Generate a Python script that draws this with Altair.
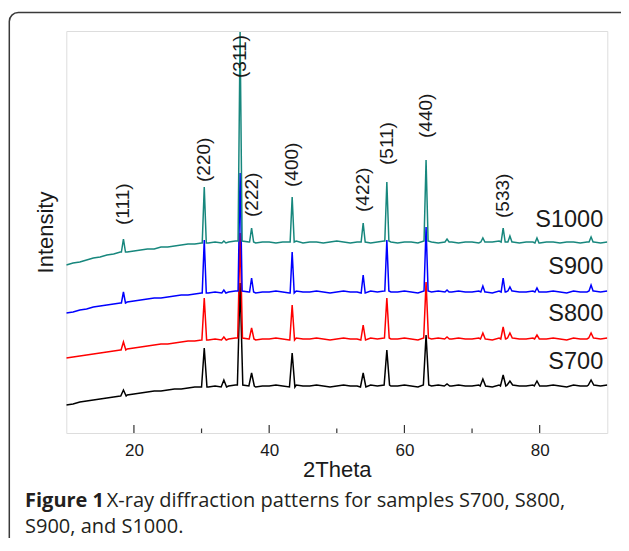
import altair as alt
import pandas as pd

# ---------------- data ----------------
SERIES = ["S700", "S800", "S900", "S1000"]
COLORS = ["#000000", "#ff0000", "#0000ff", "#17877d"]

BASE_X = list(range(10, 91))  # 2Theta, every degree

BASE_S1000 = [168, 170, 171, 173, 175, 176, 178, 179, 181, 181,
              182, 183, 184, 184, 186, 186, 187, 188, 189, 189,
              190, 190, 191, 190, 191, 192, 192, 191, 190, 191,
              191, 190, 191, 191, 192, 190, 191, 191, 190, 191,
              192, 191, 190, 191, 191, 190, 191, 192, 191, 190,
              191, 191, 190, 192, 191, 190, 191, 191, 190, 191,
              191, 190, 191, 191, 192, 191, 191, 190, 191, 191,
              190, 191, 191, 190, 191, 191, 190, 191, 191, 190,
              191]
BASE_S900 = [120, 121, 123, 124, 126, 127, 128, 129, 130, 131,
             132, 133, 134, 135, 135, 136, 137, 138, 138, 139,
             140, 140, 141, 140, 141, 142, 142, 141, 140, 141,
             141, 142, 141, 140, 142, 141, 141, 142, 141, 140,
             141, 142, 141, 141, 140, 142, 141, 142, 141, 141,
             142, 141, 140, 142, 141, 142, 141, 141, 142, 141,
             141, 142, 141, 140, 142, 141, 142, 141, 141, 142,
             141, 141, 142, 141, 140, 142, 141, 141, 142, 141,
             142]
BASE_S800 = [75, 76, 77, 78, 79, 80, 81, 82, 83, 84,
             85, 86, 87, 88, 89, 89, 90, 91, 92, 92,
             93, 93, 94, 93, 94, 95, 95, 94, 93, 94,
             94, 95, 94, 93, 95, 94, 94, 95, 94, 93,
             94, 95, 94, 94, 93, 95, 94, 95, 94, 94,
             95, 94, 93, 95, 94, 95, 94, 94, 95, 94,
             94, 95, 94, 93, 95, 94, 95, 94, 94, 95,
             94, 94, 95, 94, 93, 95, 94, 94, 95, 94,
             95]
BASE_S700 = [28, 29, 31, 32, 33, 34, 35, 36, 37, 38,
             39, 40, 41, 42, 42, 43, 44, 44, 45, 46,
             46, 46, 47, 46, 47, 48, 48, 47, 46, 47,
             47, 48, 47, 46, 48, 47, 47, 48, 47, 46,
             47, 48, 47, 47, 46, 48, 47, 48, 47, 47,
             48, 47, 46, 48, 47, 48, 47, 47, 48, 47,
             47, 48, 47, 46, 48, 47, 48, 47, 47, 48,
             47, 47, 48, 47, 46, 48, 47, 47, 48, 47,
             48]

PEAK_X = [18.45, 30.4, 33.3, 35.7, 37.4, 43.4, 53.9, 57.4, 63.2,
          66.3, 71.6, 74.6, 75.6, 79.6, 87.6]
PEAK_S1000 = [194, 246, 192, 401, 205, 236, 210, 251, 273, 194, 195, 205, 197, 195, 196]
PEAK_S900 = [141, 193, 143, 260, 155, 181, 158, 193, 206, 143, 147, 155, 146, 145, 148]
PEAK_S800 = [91, 135, 96, 200, 105, 128, 108, 135, 151, 96, 100, 106, 100, 98, 100]
PEAK_S700 = [43, 85, 53, 150, 60, 80, 60, 83, 98, 49, 54, 58, 52, 52, 53]
HALF_WIDTH = [0.4, 0.35, 0.3, 0.3]  # S700, S800, S900, S1000

HKL = ["(111)", "(220)", "(311)", "(222)", "(400)", "(422)", "(511)", "(440)", "(533)"]
HKL_X = [18.45, 30.4, 35.7, 37.4, 43.4, 53.9, 57.4, 63.2, 74.6]
HKL_Y = [208, 251, 355, 216, 246, 221, 268, 295, 215]

LABEL_Y = [71, 119, 166, 213]  # S700, S800, S900, S1000

X_MAJOR = [20, 40, 60, 80]
X_MINOR = [30, 50, 70]

BASES = [BASE_S700, BASE_S800, BASE_S900, BASE_S1000]
PEAKS = [PEAK_S700, PEAK_S800, PEAK_S900, PEAK_S1000]

# ---------------- build tables ----------------
W, H = 541, 402
xs = alt.Scale(domain=[10, 90], nice=False, zero=False)
ys = alt.Scale(domain=[0, H], nice=False, zero=False)

AX_X = alt.Axis(values=X_MAJOR, ticks=False, domain=False, grid=False,
                labelFont="Liberation Sans", labelFontSize=17,
                labelColor="#1a1a1a", labelPadding=9,
                title="2Theta", titleFont="Liberation Sans",
                titleFontSize=22, titleFontWeight="normal",
                titleColor="#1a1a1a", titlePadding=1)
AX_Y = alt.Axis(labels=False, ticks=False, domain=False, grid=False,
                title="Intensity", titleFont="Liberation Sans",
                titleFontSize=22, titleFontWeight="normal",
                titleColor="#1a1a1a", titlePadding=9)

layers = []
for name, color, base, peaks, hw in zip(SERIES, COLORS, BASES, PEAKS, HALF_WIDTH):
    pts = []
    for bx, by in zip(BASE_X, base):
        if any(px - hw < bx < px + hw for px in PEAK_X):
            continue
        pts.append((bx, by))
    for px, top in zip(PEAK_X, peaks):
        foot = base[int(round(px)) - BASE_X[0]]
        pts += [(px - hw, foot), (px, top), (px + hw, foot)]
    pts.sort(key=lambda p: p[0])
    df = pd.DataFrame({"x": [p[0] for p in pts], "y": [p[1] for p in pts],
                       "o": list(range(len(pts)))})
    layers.append(
        alt.Chart(df).mark_line(color=color, strokeWidth=1.5, clip=True).encode(
            x=alt.X("x:Q", scale=xs, axis=AX_X),
            y=alt.Y("y:Q", scale=ys, axis=AX_Y),
            order="o:Q",
        )
    )

ticks_major = alt.Chart(pd.DataFrame({"x": X_MAJOR})).mark_rule(
    color="#333", strokeWidth=1.2).encode(
    x=alt.X("x:Q", scale=xs, axis=AX_X), y=alt.value(H), y2=alt.value(H - 8))
ticks_minor = alt.Chart(pd.DataFrame({"x": X_MINOR})).mark_rule(
    color="#333", strokeWidth=1.2).encode(
    x=alt.X("x:Q", scale=xs, axis=AX_X), y=alt.value(H), y2=alt.value(H - 4.5))

hkl = alt.Chart(pd.DataFrame({"x": HKL_X, "y": HKL_Y, "t": HKL})).mark_text(
    angle=270, align="left", baseline="middle", font="Liberation Sans",
    fontSize=19, color="#1a1a1a").encode(
    x=alt.X("x:Q", scale=xs, axis=AX_X), y=alt.Y("y:Q", scale=ys, axis=AX_Y), text="t:N")

names = alt.Chart(pd.DataFrame({"x": [89.4] * 4, "y": LABEL_Y, "t": SERIES})).mark_text(
    align="right", baseline="middle", font="Liberation Sans", fontSize=23.5,
    color="#1a1a1a").encode(
    x=alt.X("x:Q", scale=xs, axis=AX_X), y=alt.Y("y:Q", scale=ys, axis=AX_Y), text="t:N")

one = pd.DataFrame({"a": [0]})
border = alt.Chart(one).mark_rect(
    fillOpacity=0, stroke="#3a3a3a", strokeWidth=1.5, cornerRadius=9).encode(
    x=alt.value(-57), x2=alt.value(564), y=alt.value(-18.5), y2=alt.value(700))

cap_font = "Open Sans"
cap1b = alt.Chart(one).mark_text(
    align="left", baseline="alphabetic", font=cap_font, fontSize=20,
    fontWeight="bold", color="#231f20").encode(
    x=alt.value(-41.3), y=alt.value(476), text=alt.value("Figure 1"))
cap1 = alt.Chart(one).mark_text(
    align="left", baseline="alphabetic", font=cap_font, fontSize=20,
    fontWeight=500, color="#231f20").encode(
    x=alt.value(40.5), y=alt.value(476),
    text=alt.value("X-ray diffraction patterns for samples S700, S800,"))
cap2 = alt.Chart(one).mark_text(
    align="left", baseline="alphabetic", font=cap_font, fontSize=20,
    fontWeight=500, color="#231f20").encode(
    x=alt.value(-41.3), y=alt.value(502), text=alt.value("S900, and S1000."))

chart = alt.layer(
    *layers, ticks_major, ticks_minor, hkl, names, border, cap1b, cap1, cap2
).properties(
    width=W, height=H,
    padding={"left": 58.3, "top": 23, "right": 13.7, "bottom": 105},
    autosize=alt.AutoSizeParams(type="none"),
).configure_view(stroke="#333", strokeWidth=1.3).configure(background="white")

chart.save("out.html", embed_options={"renderer": "svg", "actions": False})
